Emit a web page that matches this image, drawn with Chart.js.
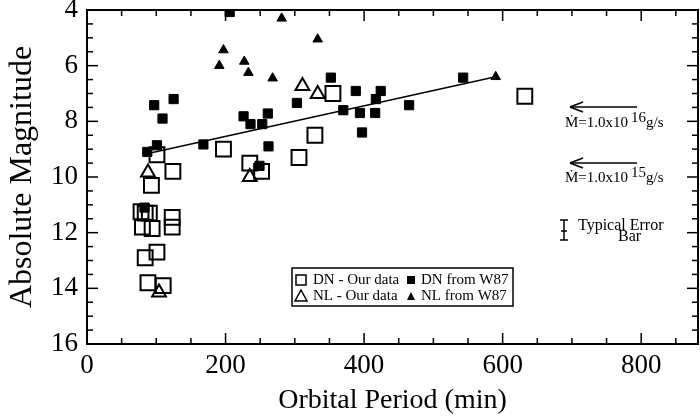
<!DOCTYPE html>
<html>
<head>
<meta charset="utf-8">
<script src="https://cdn.jsdelivr.net/npm/chart.js@4.4.0/dist/chart.umd.min.js"></script>
<style>
  body { margin: 0; background: #fff; }
  canvas { display: block; }
</style>
</head>
<body>
<canvas id="magChart" width="700" height="417"></canvas>
<script>
// axis ranges and tick labels
const xTicks = [0, 200, 400, 600, 800];
const yTicks = [4, 6, 8, 10, 12, 14, 16];
const xMin = 0, xMax = 882;
const yMin = 4, yMax = 16;

// DN - Our data (open squares): [period, magnitude]
const dnOurData = [
  [101, 9.2], [197, 9.0], [124, 9.8], [235, 9.5], [252, 9.8], [93, 10.3],
  [306, 9.3], [329, 8.5], [355, 7.0], [632, 7.1],
  [78, 11.25], [84, 11.3], [90, 11.3], [80, 11.8], [94, 11.85],
  [123, 11.45], [123, 11.8], [101, 12.7], [84, 12.9], [88, 13.8], [110, 13.9]
];

// DN from W87 (filled squares)
const dnW87Data = [
  [206, 4.07], [97, 7.42], [125, 7.2], [109, 7.9], [226, 7.82], [236, 8.1],
  [261, 7.72], [253, 8.1], [303, 7.34], [101, 8.86], [87, 9.1], [168, 8.83],
  [262, 8.9], [249, 9.6], [352, 6.43], [388, 6.91], [424, 6.91], [417, 7.2],
  [370, 7.6], [394, 7.7], [416, 7.7], [465, 7.42], [397, 8.4], [543, 6.43],
  [83, 11.1]
];

// NL - Our data (open triangles)
const nlOurData = [[311, 6.73], [333, 7.02], [88, 9.84], [235, 10.0], [104, 14.15]];

// NL from W87 (filled triangles)
const nlW87Data = [
  [281, 4.3], [197, 5.44], [191, 6.0], [227, 5.85], [233, 6.25],
  [268, 6.45], [333, 5.05], [590, 6.4]
];

// fitted line end points
const fitLine = [[80, 9.2], [590, 6.4]];

function toPoints(arr) {
  return arr.map(p => ({ x: p[0], y: p[1] }));
}

const serif = "'Liberation Serif', 'Times New Roman', serif";
Chart.defaults.font.family = serif;
Chart.defaults.color = '#000';

// frame, inward ticks, legend box and the notes on the right
const framePlugin = {
  id: 'frame',
  afterDraw(chart) {
    const ctx = chart.ctx;
    const a = chart.chartArea;
    const xs = chart.scales.x, ys = chart.scales.y;

    function seg(x1, y1, x2, y2) {
      ctx.beginPath();
      ctx.moveTo(x1, y1);
      ctx.lineTo(x2, y2);
      ctx.stroke();
    }

    ctx.save();
    ctx.strokeStyle = '#000';
    ctx.fillStyle = '#000';
    ctx.lineWidth = 2;
    ctx.strokeRect(a.left, a.top, a.right - a.left, a.bottom - a.top);

    ctx.lineWidth = 1.5;
    for (let v = xMin; v <= xMax; v += 50) {
      const px = xs.getPixelForValue(v);
      const len = v % 200 === 0 ? 11 : 6;
      seg(px, a.bottom, px, a.bottom - len);
      seg(px, a.top, px, a.top + len);
    }
    for (let v = yMin; v <= yMax; v += 0.5) {
      const py = ys.getPixelForValue(v);
      const len = v % 2 === 0 ? 11 : 6;
      seg(a.left, py, a.left + len, py);
      seg(a.right, py, a.right - len, py);
    }

    // legend
    ctx.lineWidth = 1.5;
    ctx.strokeRect(292, 268, 221, 38);
    ctx.font = '15px ' + serif;
    ctx.textBaseline = 'middle';
    ctx.textAlign = 'left';
    const r1 = 280, r2 = 296;
    ctx.strokeRect(296, r1 - 5, 10, 10);
    ctx.fillText('DN - Our data', 313, r1);
    ctx.fillRect(407, r1 - 4, 8, 8);
    ctx.fillText('DN from W87', 421, r1);
    ctx.beginPath();
    ctx.moveTo(301, r2 - 6); ctx.lineTo(307, r2 + 5); ctx.lineTo(295, r2 + 5); ctx.closePath();
    ctx.stroke();
    ctx.beginPath();
    ctx.moveTo(411, r2 - 4); ctx.lineTo(415, r2 + 4); ctx.lineTo(407, r2 + 4); ctx.closePath();
    ctx.fill();
    ctx.fillText('NL - Our data', 313, r2);
    ctx.fillText('NL from W87', 421, r2);

    // accretion-rate arrows
    ctx.textBaseline = 'alphabetic';
    function rateNote(yArrow, yText, exp) {
      ctx.lineWidth = 1.5;
      seg(570, yArrow, 637, yArrow);
      seg(570, yArrow, 583, yArrow - 5);
      seg(570, yArrow, 583, yArrow + 5);
      ctx.font = '15px ' + serif;
      const main = '\u1E40=1.0x10';
      ctx.fillText(main, 565, yText);
      const w = ctx.measureText(main).width;
      ctx.fillText(exp, 565 + w + 3, yText - 5);
      const w2 = ctx.measureText(exp).width;
      ctx.fillText('g/s', 565 + w + 3 + w2, yText);
    }
    rateNote(107, 127, '16');
    rateNote(163, 182, '15');

    // typical error bar
    ctx.lineWidth = 1.5;
    seg(564, 220, 564, 240);
    seg(560, 220, 568, 220);
    seg(560, 240, 568, 240);
    seg(561, 231, 567, 231);
    ctx.font = '16px ' + serif;
    ctx.fillText('Typical Error', 578, 230);
    ctx.fillText('Bar', 618, 241);

    ctx.restore();
  }
};

const ctx = document.getElementById('magChart');
new Chart(ctx, {
  type: 'scatter',
  data: {
    datasets: [
      {
        label: 'fit',
        type: 'line',
        data: toPoints(fitLine),
        borderColor: '#000',
        borderWidth: 1.5,
        pointRadius: 0,
        fill: false,
        clip: 0
      },
      {
        label: 'DN - Our data',
        data: toPoints(dnOurData),
        pointStyle: 'rect',
        pointRadius: 10.5,
        borderColor: '#000',
        backgroundColor: 'rgba(0,0,0,0)',
        borderWidth: 2,
        clip: 0
      },
      {
        label: 'DN from W87',
        data: toPoints(dnW87Data),
        pointStyle: 'rect',
        pointRadius: 6.5,
        borderColor: '#000',
        backgroundColor: '#000',
        borderWidth: 1,
        clip: 0
      },
      {
        label: 'NL - Our data',
        data: toPoints(nlOurData),
        pointStyle: 'triangle',
        pointRadius: 8,
        borderColor: '#000',
        backgroundColor: 'rgba(0,0,0,0)',
        borderWidth: 2,
        clip: 0
      },
      {
        label: 'NL from W87',
        data: toPoints(nlW87Data),
        pointStyle: 'triangle',
        pointRadius: 5.5,
        borderColor: '#000',
        backgroundColor: '#000',
        borderWidth: 1,
        clip: 0
      }
    ]
  },
  options: {
    responsive: false,
    animation: false,
    events: [],
    layout: {
      autoPadding: false,
      padding: { left: 0, right: 2, top: 10, bottom: 0 }
    },
    plugins: {
      legend: { display: false },
      tooltip: { enabled: false }
    },
    scales: {
      x: {
        type: 'linear',
        min: xMin,
        max: xMax,
        grid: { display: false, drawTicks: false },
        border: { display: false },
        afterBuildTicks: s => { s.ticks = xTicks.map(v => ({ value: v })); },
        afterFit: s => {
          s.height = 73;
          s.paddingLeft = 0;
          s.paddingRight = 0;
        },
        ticks: { padding: 6, maxRotation: 0, font: { size: 27 } },
        title: {
          display: true,
          text: 'Orbital Period (min)',
          font: { size: 28 },
          padding: { top: 0, bottom: 0 }
        }
      },
      y: {
        type: 'linear',
        min: yMin,
        max: yMax,
        reverse: true,
        grid: { display: false, drawTicks: false },
        border: { display: false },
        afterBuildTicks: s => { s.ticks = yTicks.map(v => ({ value: v })); },
        afterFit: s => {
          s.width = 87;
          s.paddingTop = 0;
          s.paddingBottom = 0;
        },
        ticks: { padding: 9, font: { size: 27 } },
        title: {
          display: true,
          text: 'Absolute Magnitude',
          font: { size: 32 },
          padding: { top: 3, bottom: 0 }
        }
      }
    }
  },
  plugins: [framePlugin]
});
</script>
</body>
</html>
